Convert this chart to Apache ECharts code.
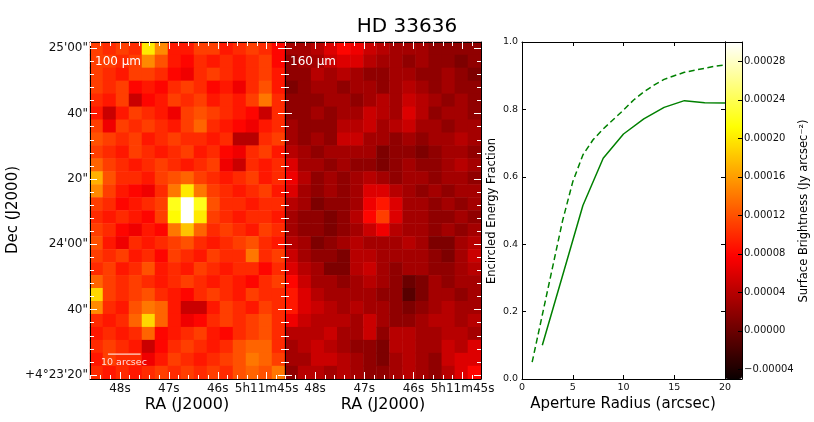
<!DOCTYPE html>
<html><head><meta charset="utf-8">
<script src="https://cdn.jsdelivr.net/npm/echarts@6/dist/echarts.min.js"></script>
<style>html,body{margin:0;padding:0;background:#fff}#c{width:814px;height:422px}</style>
</head><body><div id="c"></div>
<script>
// ---------------- data ----------------
const title = 'HD 33636';
const bandLabels = ['100 ', '160 '];
// RA axis: seconds of 5h11m ; Dec axis: arcsec above +4°23'00"
const raRange = [44.625, 48.612];
const raTicks = [45, 46, 47, 48];
const raMinor = [44.8, 45.2, 45.4, 45.6, 45.8, 46.2, 46.4, 46.6, 46.8, 47.2, 47.4, 47.6, 47.8, 48.2, 48.4, 48.6];
const decRange = [18.78, 121.93];
const decTicks = [20, 40, 60, 80, 100, 120];
const decTickLabels = ['+4°23\'20"', '40"', '24\'00"', '20"', '40"', '25\'00"'];
const decMinor = [24, 28, 32, 36, 44, 48, 52, 56, 64, 68, 72, 76, 84, 88, 92, 96, 104, 108, 112, 116];
const scaleBar = { ra: 48.245, dec: 26.4, arcsec: 10, text: '10 arcsec' };

const radiusSolid = [2, 4, 6, 8, 10, 12, 14, 16, 18, 20];
const eefSolid = [0.10, 0.307, 0.515, 0.655, 0.727, 0.772, 0.806, 0.826, 0.820, 0.819];
const radiusDashed = [1, 2, 3, 4, 5, 6, 7, 8, 9, 10, 11, 12, 13, 14, 15, 16, 17, 18, 19, 20];
const eefDashed = [0.05, 0.19, 0.33, 0.47, 0.585, 0.665, 0.71, 0.742, 0.77, 0.798, 0.828, 0.852, 0.872, 0.889, 0.90, 0.91, 0.916, 0.922, 0.928, 0.932];
const radiusTicks = [0, 5, 10, 15, 20];
const eefTicks = [0, 0.2, 0.4, 0.6, 0.8, 1.0];

const cbRange = [-0.00005, 0.0003];
const cbTicks = [-0.00004, 0, 0.00004, 0.00008, 0.00012, 0.00016, 0.00020, 0.00024, 0.00028];
const fluxUnit = 1e-5; // map values below are in 1e-5 Jy arcsec^-2

const map100 = [
 [11,10,11,10,20,15, 9, 9,11,11, 9,10,11,10, 8],
 [11,11,10,11,15,12, 9, 8,10, 9,10, 9,10,11, 8],
 [11,10, 9,11,11,10, 8, 7,10,11,10, 9,10,11, 9],
 [11,10,11, 8, 9, 8,10,11,10, 8, 9, 7,10,12, 9],
 [10, 9,11, 5, 8, 9,11,10,11, 9,10, 9,11,14,10],
 [ 9, 5, 9,11,10, 9, 7,11,12,11,10, 9, 8, 5,10],
 [11, 7,11,10,11,10, 9,11,13,10, 9, 8, 7, 9,10],
 [12,11,10,11, 9,10,11,10,10, 9,10, 4, 4,10,11],
 [11,10, 9,11,10, 9,10,11, 9,10, 8, 7,10,11, 9],
 [13,11,10, 9,10,11,10, 9,10,11, 7, 5,10, 9,10],
 [17,12,10,10, 9,11,12,13,11,10, 9,10,11, 9,10],
 [15,11, 9, 8, 7,10,14,20,14,11,10, 9,10,11, 9],
 [11,10, 8, 9,10,11,22,30,22,12,10,10, 9,10,10],
 [10, 9,10, 9, 8,11,21,30,20,11,10, 9,10,10, 9],
 [11,10, 8, 7, 9, 8,14,18,13,10,11,10, 9,11,10],
 [12, 9, 7,10, 9,10,11,12,10, 9,10,11,12,10, 9],
 [11,10,11, 9,10, 8,11,10, 9,11,10,10,14,10,11],
 [10,11, 9,10,12, 9,10, 9,11,10, 9,10,10, 8,10],
 [13,11,10,11,10, 9,10,11,10, 9,10, 9, 8,10,11],
 [19,11,10,11,12,10, 9, 8,10,11,10, 9,11,10,10],
 [15,10, 9,12,14,13, 9, 5, 5, 9,11,10, 9,11,10],
 [10, 9,10,13,19,13, 9, 7, 8,10,11,10,11,12,10],
 [ 9,10, 9,10,13, 8, 9,10,11, 9, 8,10,11,12,10],
 [10,11,10, 9, 5, 8,10,11,10, 9,10,12,13,13,10],
 [ 9,11,10,10, 7, 9,11,10, 9,10,11,12,14,13,11],
 [10, 9,10, 9,10,11,10,11,10,11,10,12,13,12,14]
];
const map160 = [
 [3,3,4,6,8,7,5,4,3,3,3,2,2,2,2],
 [2,3,3,5,6,6,4,3,3,2,3,2,2,1,2],
 [2,2,4,3,4,3,2,2,3,3,2,2,3,2,1],
 [1,2,3,3,2,3,3,2,3,4,3,2,3,2,2],
 [2,2,2,3,3,2,3,4,3,5,4,3,2,3,2],
 [2,2,3,2,3,3,5,4,3,6,4,2,3,3,2],
 [3,2,2,2,4,4,5,3,4,5,3,3,2,3,3],
 [3,2,3,2,5,5,3,3,2,3,2,3,3,4,3],
 [4,3,2,3,3,3,3,1,2,2,1,2,3,3,2],
 [6,3,3,2,3,2,2,1,2,3,2,2,3,4,3],
 [7,4,2,3,2,3,4,3,2,3,3,2,3,3,2],
 [6,3,2,3,2,3,6,6,4,3,2,3,2,3,3],
 [4,3,1,2,2,3,7,9,6,3,3,2,3,2,3],
 [3,2,2,1,2,4,8,11,6,3,3,2,2,3,2],
 [3,2,2,1,2,3,5,7,4,3,3,2,3,2,3],
 [4,3,1,2,3,4,3,3,3,4,3,1,1,3,4],
 [5,3,2,2,1,4,4,3,3,3,3,2,1,3,5],
 [6,4,3,1,1,4,5,3,2,3,3,2,2,3,4],
 [8,5,3,3,2,3,4,3,2,0,1,3,2,3,3],
 [9,6,4,3,3,3,3,2,2,-1,1,3,3,2,3],
 [9,6,5,4,3,4,3,3,2,1,2,3,4,3,3],
 [7,5,4,4,4,3,5,3,2,2,3,4,4,3,4],
 [4,4,4,5,3,3,5,2,4,4,3,3,4,4,3],
 [3,4,5,4,3,2,2,1,4,4,3,3,5,4,6],
 [3,3,5,5,4,3,2,1,3,4,3,2,5,6,6],
 [2,4,4,3,4,3,2,2,3,4,3,2,4,6,8]
];

// ---------------- helpers ----------------
const FONT = 'DejaVu Sans';
function hot(t) {
  const a = 0.365079, b = 0.746032;
  const r = t < a ? 0.0416 + (1 - 0.0416) * t / a : 1;
  const g = t < a ? 0 : (t < b ? (t - a) / (b - a) : 1);
  const bl = t < b ? 0 : (t - b) / (1 - b);
  const h = x => Math.round(Math.max(0, Math.min(1, x)) * 255);
  return 'rgb(' + h(r) + ',' + h(g) + ',' + h(bl) + ')';
}
const hotColors = [];
for (let i = 0; i <= 80; i++) hotColors.push(hot(i / 80));

function cells(map) {
  const out = [];
  map.forEach((row, r) => row.forEach((v, c) => out.push([c, r, v * fluxUnit])));
  return out;
}
function idx(n) { const a = []; for (let i = 0; i < n; i++) a.push(i); return a; }
function raLabel(v) { const s = Math.round(v); return s === 45 ? '5h11m45s' : s + 's'; }
function decLabel(v) { const i = decTicks.indexOf(Math.round(v)); return i >= 0 ? decTickLabels[i] : ''; }
function cbLabel(v) { return (Math.abs(v) < 1e-12 ? 0 : v).toFixed(5).replace('-', '\u2212'); }

const P1 = { left: 90, top: 42, width: 195, height: 337 };
const P2 = { left: 285, top: 42, width: 196, height: 337 };
const PL = { left: 522, top: 42, width: 203, height: 337 };
const PC = { left: 725, top: 42, width: 17, height: 337 };

const grid = [], xAxis = [], yAxis = [];
function addGrid(r) { grid.push(Object.assign({ show: false, containLabel: false, outerBoundsMode: 'none' }, r)); return grid.length - 1; }

function catPair(g, nx, ny) {
  xAxis.push({ type: 'category', gridIndex: g, data: idx(nx), show: false });
  yAxis.push({ type: 'category', gridIndex: g, data: idx(ny), show: false, inverse: true });
  return [xAxis.length - 1, yAxis.length - 1];
}
function imgAxis(g, dim, pos, ticks, len, labels, line) {
  const isX = dim === 'x';
  const ax = {
    type: 'value', gridIndex: g, position: pos, z: 10,
    min: isX ? raRange[0] : decRange[0], max: isX ? raRange[1] : decRange[1],
    inverse: isX,
    axisLine: { show: line, onZero: false, lineStyle: { color: '#000', width: 1 } },
    axisTick: { show: true, inside: true, length: len, customValues: ticks, lineStyle: { color: '#fff', width: 1 } },
    axisLabel: { show: labels, customValues: ticks, margin: isX ? 4 : 2, fontSize: 12, color: '#111', fontFamily: FONT,
      formatter: isX ? raLabel : decLabel },
    splitLine: { show: false }, minorTick: { show: false }
  };
  (isX ? xAxis : yAxis).push(ax);
  return (isX ? xAxis : yAxis).length - 1;
}

// P1
const g0 = addGrid(P1); const heat1 = catPair(g0, 15, 26);
const g1 = addGrid(P1);
const p1x = imgAxis(g1, 'x', 'bottom', raTicks, 7, true, true);
imgAxis(g1, 'x', 'top', raTicks, 7, false, true);
const p1y = imgAxis(g1, 'y', 'left', decTicks, 7, true, true);
imgAxis(g1, 'y', 'right', decTicks, 7, false, true);
const g2 = addGrid(P1);
imgAxis(g2, 'x', 'bottom', raMinor, 4, false, false);
imgAxis(g2, 'x', 'top', raMinor, 4, false, false);
imgAxis(g2, 'y', 'left', decMinor, 4, false, false);
imgAxis(g2, 'y', 'right', decMinor, 4, false, false);
// P2
const g3 = addGrid(P2); const heat2 = catPair(g3, 15, 26);
const g4 = addGrid(P2);
imgAxis(g4, 'x', 'bottom', raTicks, 7, true, true);
imgAxis(g4, 'x', 'top', raTicks, 7, false, true);
imgAxis(g4, 'y', 'left', decTicks, 7, false, true);
imgAxis(g4, 'y', 'right', decTicks, 7, false, true);
const g5 = addGrid(P2);
imgAxis(g5, 'x', 'bottom', raMinor, 4, false, false);
imgAxis(g5, 'x', 'top', raMinor, 4, false, false);
imgAxis(g5, 'y', 'left', decMinor, 4, false, false);
imgAxis(g5, 'y', 'right', decMinor, 4, false, false);

// line chart
const g6 = addGrid(PL);
function lineAxis(dim, pos, labels) {
  const isX = dim === 'x';
  const ax = {
    type: 'value', gridIndex: g6, position: pos, z: 10,
    min: isX ? radiusTicks[0] : eefTicks[0], max: isX ? radiusTicks[radiusTicks.length - 1] : eefTicks[eefTicks.length - 1],
    interval: isX ? 5 : 0.2,
    axisLine: { show: true, onZero: false, lineStyle: { color: '#000', width: 1 } },
    axisTick: { show: true, inside: true, length: 4, lineStyle: { color: '#000', width: 1 } },
    axisLabel: { show: labels, margin: isX ? 4 : 4, fontSize: 9.5, color: '#111', fontFamily: FONT,
      formatter: isX ? (v => String(v)) : (v => v.toFixed(1)) },
    splitLine: { show: false }
  };
  (isX ? xAxis : yAxis).push(ax);
  return (isX ? xAxis : yAxis).length - 1;
}
const lx = lineAxis('x', 'bottom', true); lineAxis('x', 'top', false);
const ly = lineAxis('y', 'left', true); lineAxis('y', 'right', false);

// colorbar frame + ticks
const g7 = addGrid(PC);
const cbFrame = (dim, pos) => ({ type: 'value', gridIndex: g7, position: pos, z: 10, min: 0, max: 1,
  axisLine: { show: true, onZero: false, lineStyle: { color: '#000', width: 1 } },
  axisTick: { show: false }, axisLabel: { show: false }, splitLine: { show: false } });
xAxis.push(cbFrame('x', 'bottom')); xAxis.push(cbFrame('x', 'top'));
yAxis.push(cbFrame('y', 'left'));
yAxis.push({ type: 'value', gridIndex: g7, position: 'right', z: 10, min: cbRange[0], max: cbRange[1],
  axisLine: { show: true, onZero: false, lineStyle: { color: '#000', width: 1 } },
  axisTick: { show: true, inside: true, length: 4, customValues: cbTicks, lineStyle: { color: '#000', width: 1 } },
  axisLabel: { show: true, customValues: cbTicks, margin: 2, fontSize: 10, color: '#111', fontFamily: FONT, formatter: cbLabel },
  splitLine: { show: false } });

const zip = (a, b) => a.map((v, i) => [v, b[i]]);
const raPerArcsec = 1 / (15 * Math.cos((4 + 24 / 60) * Math.PI / 180));

const txt = (text, x, y, size, color, rot, align) => ({
  type: 'text', x: x, y: y, rotation: rot || 0, z: 100, silent: true,
  style: { text: text, fontSize: size, fontFamily: FONT, fill: color,
    align: align || 'center', textAlign: align || 'center', verticalAlign: 'middle', textVerticalAlign: 'middle' }
});

const option = {
  animation: false,
  backgroundColor: '#fff',
  textStyle: { fontFamily: FONT },
  title: { text: title, left: 'center', top: 12, padding: 5,
    textStyle: { fontSize: 20, fontWeight: 'normal', color: '#000', fontFamily: FONT } },
  grid: grid, xAxis: xAxis, yAxis: yAxis,
  visualMap: {
    type: 'continuous', min: cbRange[0], max: cbRange[1], seriesIndex: [0, 1],
    orient: 'vertical', left: PC.left, top: PC.top, itemWidth: PC.width, itemHeight: PC.height,
    padding: 0, calculable: false, text: null, hoverLink: false, z: 4,
    inRange: { color: hotColors }
  },
  series: [
    { type: 'heatmap', xAxisIndex: heat1[0], yAxisIndex: heat1[1], data: cells(map100), silent: true,
      emphasis: { disabled: true }, progressive: 0 },
    { type: 'heatmap', xAxisIndex: heat2[0], yAxisIndex: heat2[1], data: cells(map160), silent: true,
      emphasis: { disabled: true }, progressive: 0 },
    { type: 'line', xAxisIndex: lx, yAxisIndex: ly, data: zip(radiusSolid, eefSolid), symbol: 'none', silent: true,
      lineStyle: { color: '#008000', width: 1.5 } },
    { type: 'line', xAxisIndex: lx, yAxisIndex: ly, data: zip(radiusDashed, eefDashed), symbol: 'none', silent: true,
      lineStyle: { color: '#008000', width: 1.5, type: [6, 3.5] } },
    { type: 'line', xAxisIndex: p1x, yAxisIndex: p1y, symbol: 'none', silent: true, z: 20,
      data: [[scaleBar.ra, scaleBar.dec], [scaleBar.ra - scaleBar.arcsec * raPerArcsec, scaleBar.dec]],
      lineStyle: { color: '#fff', width: 1 } }
  ],
  graphic: [
    txt('Dec (J2000)', 13, 210, 15, '#000', Math.PI / 2),
    txt('RA (J2000)', 187, 405, 16, '#000'),
    txt('RA (J2000)', 383, 405, 16, '#000'),
    txt('Aperture Radius (arcsec)', 623, 404, 15, '#000'),
    txt('Encircled Energy Fraction', 492, 211, 11.5, '#000', Math.PI / 2),
    txt('Surface Brightness (Jy arcsec\u207B\u00B2)', 804, 211, 11.5, '#000', Math.PI / 2),
    txt(bandLabels[0] + '\u03BCm', 95, 62, 12, '#fff', 0, 'left'),
    txt(bandLabels[1] + '\u03BCm', 290, 62, 12, '#fff', 0, 'left'),
    txt(scaleBar.text, 101, 363, 9.5, '#fdd', 0, 'left')
  ]
};
const chart = echarts.init(document.getElementById('c'), null, { renderer: 'canvas' });
chart.setOption(option);
</script></body></html>
